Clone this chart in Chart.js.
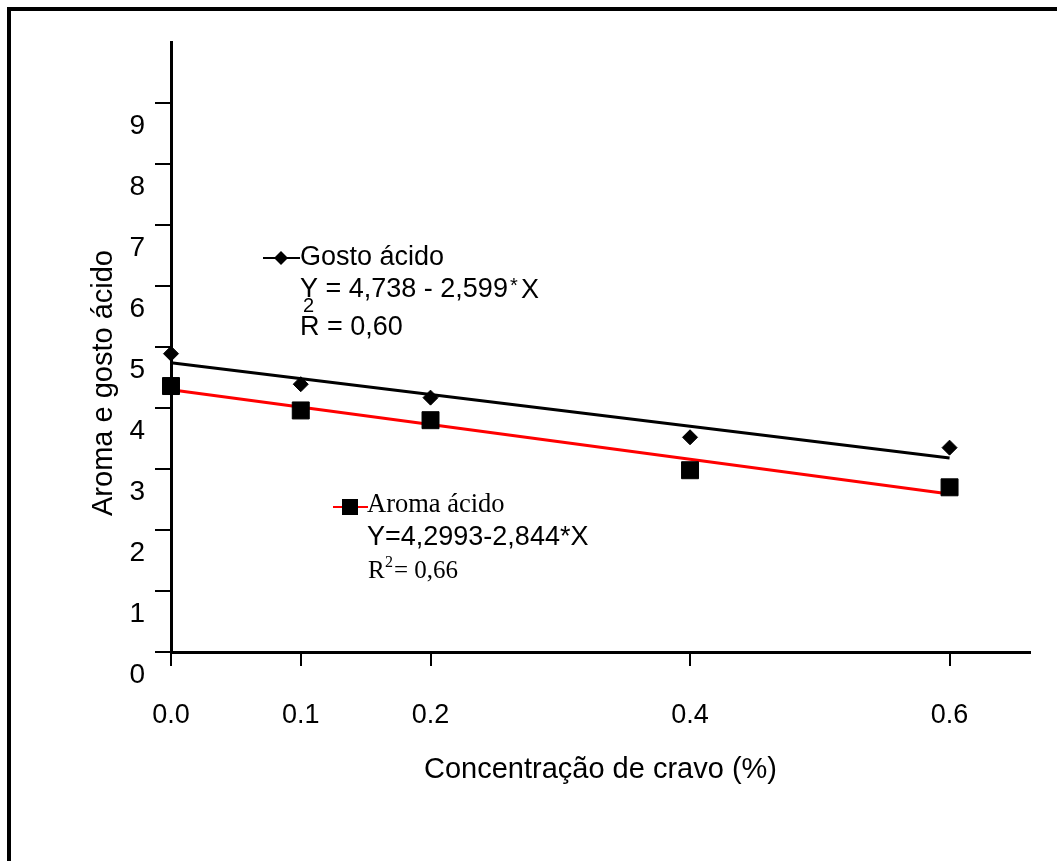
<!DOCTYPE html>
<html>
<head>
<meta charset="utf-8">
<script src="https://cdn.jsdelivr.net/npm/chart.js@4.4.1/dist/chart.umd.min.js"></script>
<style>
  html, body { margin: 0; padding: 0; background: #fff; }
  #wrap { width: 1057px; height: 861px; position: relative; }
</style>
</head>
<body>
<div id="wrap"><canvas id="cravoChart" width="1057" height="861"></canvas></div>
<script>
// concentration of clove (%) and panel scores
const concentracao = [0.0, 0.1, 0.2, 0.4, 0.6];
const xTickLabels = ['0.0', '0.1', '0.2', '0.4', '0.6'];
const yTicks = [0, 1, 2, 3, 4, 5, 6, 7, 8, 9];

const gostoAcido = [4.89, 4.39, 4.17, 3.52, 3.35];
const aromaAcido = [4.36, 3.96, 3.80, 2.98, 2.70];

// fitted lines, endpoints
const fitX = [0.0, 0.6];
const gostoFit = [4.74, 3.18];
const aromaFit = [4.30, 2.59];

const ARIAL = '"Liberation Sans", Arial, sans-serif';
const TIMES = '"Liberation Serif", "Times New Roman", serif';

function toPoints(xs, ys) {
    return xs.map((x, i) => ({ x: x, y: ys[i] }));
}

// frame, y title and the in-plot legend / equations
const annotations = {
    id: 'annotations',
    beforeDraw(chart) {
        const c = chart.ctx;
        c.save();
        c.fillStyle = '#fff';
        c.fillRect(0, 0, chart.width, chart.height);
        c.strokeStyle = '#000';
        c.lineWidth = 4;
        c.beginPath();
        c.moveTo(9, 861);
        c.lineTo(9, 9);
        c.lineTo(1057, 9);
        c.stroke();
        c.restore();
    },
    afterDraw(chart) {
        const c = chart.ctx;
        c.save();
        c.fillStyle = '#000';
        c.textBaseline = 'middle';

        // y axis title
        c.save();
        c.translate(104, 383);
        c.rotate(-Math.PI / 2);
        c.textAlign = 'center';
        c.font = '29px ' + ARIAL;
        c.fillText('Aroma e gosto ácido', 0, 0);
        c.restore();

        // Gosto acido key
        c.strokeStyle = '#000';
        c.lineWidth = 2;
        c.beginPath();
        c.moveTo(263, 258);
        c.lineTo(300, 258);
        c.stroke();
        c.beginPath();
        c.moveTo(281, 251);
        c.lineTo(288, 258);
        c.lineTo(281, 265);
        c.lineTo(274, 258);
        c.closePath();
        c.fill();

        c.font = '27px ' + ARIAL;
        c.fillText('Gosto ácido', 300, 258);
        c.fillText('Y = 4,738 - 2,599', 300, 290);
        c.font = '20px ' + ARIAL;
        c.fillText('*', 510, 286);
        c.font = '27px ' + ARIAL;
        c.fillText('X', 521, 291);
        c.font = '20px ' + ARIAL;
        c.fillText('2', 303, 306);
        c.font = '27px ' + ARIAL;
        c.fillText('R = 0,60', 300, 328);

        // Aroma acido key
        c.strokeStyle = '#ff0000';
        c.lineWidth = 2;
        c.beginPath();
        c.moveTo(333, 507);
        c.lineTo(368, 507);
        c.stroke();
        c.fillRect(342, 499, 16, 16);

        c.font = '26.5px ' + TIMES;
        c.fillText('Aroma ácido', 367, 505);
        c.font = '27px ' + ARIAL;
        c.fillText('Y=4,2993-2,844*X', 367, 538);
        c.font = '25px ' + TIMES;
        c.fillText('R', 368, 571);
        c.font = '16px ' + TIMES;
        c.fillText('2', 385, 563);
        c.font = '25px ' + TIMES;
        c.fillText('= 0,66', 394, 571);
        c.restore();
    }
};

const ctx = document.getElementById('cravoChart').getContext('2d');

const cravoChart = new Chart(ctx, {
    type: 'scatter',
    data: {
        datasets: [
            {
                label: 'Gosto ácido (ajuste)',
                data: toPoints(fitX, gostoFit),
                showLine: true,
                borderColor: '#000',
                borderWidth: 3,
                pointRadius: 0,
                clip: false,
                order: 3
            },
            {
                label: 'Aroma ácido (ajuste)',
                data: toPoints(fitX, aromaFit),
                showLine: true,
                borderColor: '#ff0000',
                borderWidth: 3,
                pointRadius: 0,
                clip: false,
                order: 4
            },
            {
                label: 'Gosto ácido',
                data: toPoints(concentracao, gostoAcido),
                pointStyle: 'rectRot',
                pointRadius: 7.5,
                backgroundColor: '#000',
                borderColor: '#000',
                borderWidth: 1,
                clip: false,
                order: 1
            },
            {
                label: 'Aroma ácido',
                data: toPoints(concentracao, aromaAcido),
                pointStyle: 'rect',
                pointRadius: 12,
                backgroundColor: '#000',
                borderColor: '#000',
                borderWidth: 1,
                clip: false,
                order: 2
            }
        ]
    },
    options: {
        responsive: false,
        animation: false,
        events: [],
        layout: {
            padding: { left: 0, right: 27, top: 42, bottom: 0 }
        },
        plugins: {
            legend: { display: false },
            tooltip: { enabled: false }
        },
        scales: {
            x: {
                type: 'linear',
                min: 0,
                max: 0.662,
                afterBuildTicks: (scale) => {
                    scale.ticks = concentracao.map(v => ({ value: v }));
                },
                afterFit: (scale) => { scale.height = 209; },
                border: { display: true, color: '#000', width: 3 },
                grid: {
                    drawOnChartArea: false,
                    drawTicks: true,
                    tickLength: 14,
                    color: '#000',
                    lineWidth: 2
                },
                ticks: {
                    color: '#000',
                    padding: 33,
                    maxRotation: 0,
                    autoSkip: false,
                    font: { family: ARIAL, size: 27 },
                    callback: function(value, index) {
                        return xTickLabels[index];
                    }
                },
                title: {
                    display: true,
                    text: 'Concentração de cravo (%)',
                    color: '#000',
                    font: { family: ARIAL, size: 29 },
                    padding: { top: 0, bottom: 74 }
                }
            },
            y: {
                type: 'linear',
                min: 0,
                max: 10,
                afterBuildTicks: (scale) => {
                    scale.ticks = yTicks.map(v => ({ value: v }));
                },
                afterFit: (scale) => { scale.width = 171; },
                border: { display: true, color: '#000', width: 3 },
                grid: {
                    drawOnChartArea: false,
                    drawTicks: true,
                    tickLength: 16,
                    color: '#000',
                    lineWidth: 2
                },
                ticks: {
                    color: '#000',
                    padding: 10,
                    labelOffset: 23,
                    autoSkip: false,
                    font: { family: ARIAL, size: 28 }
                },
                title: { display: false }
            }
        }
    },
    plugins: [annotations]
});
</script>
</body>
</html>
